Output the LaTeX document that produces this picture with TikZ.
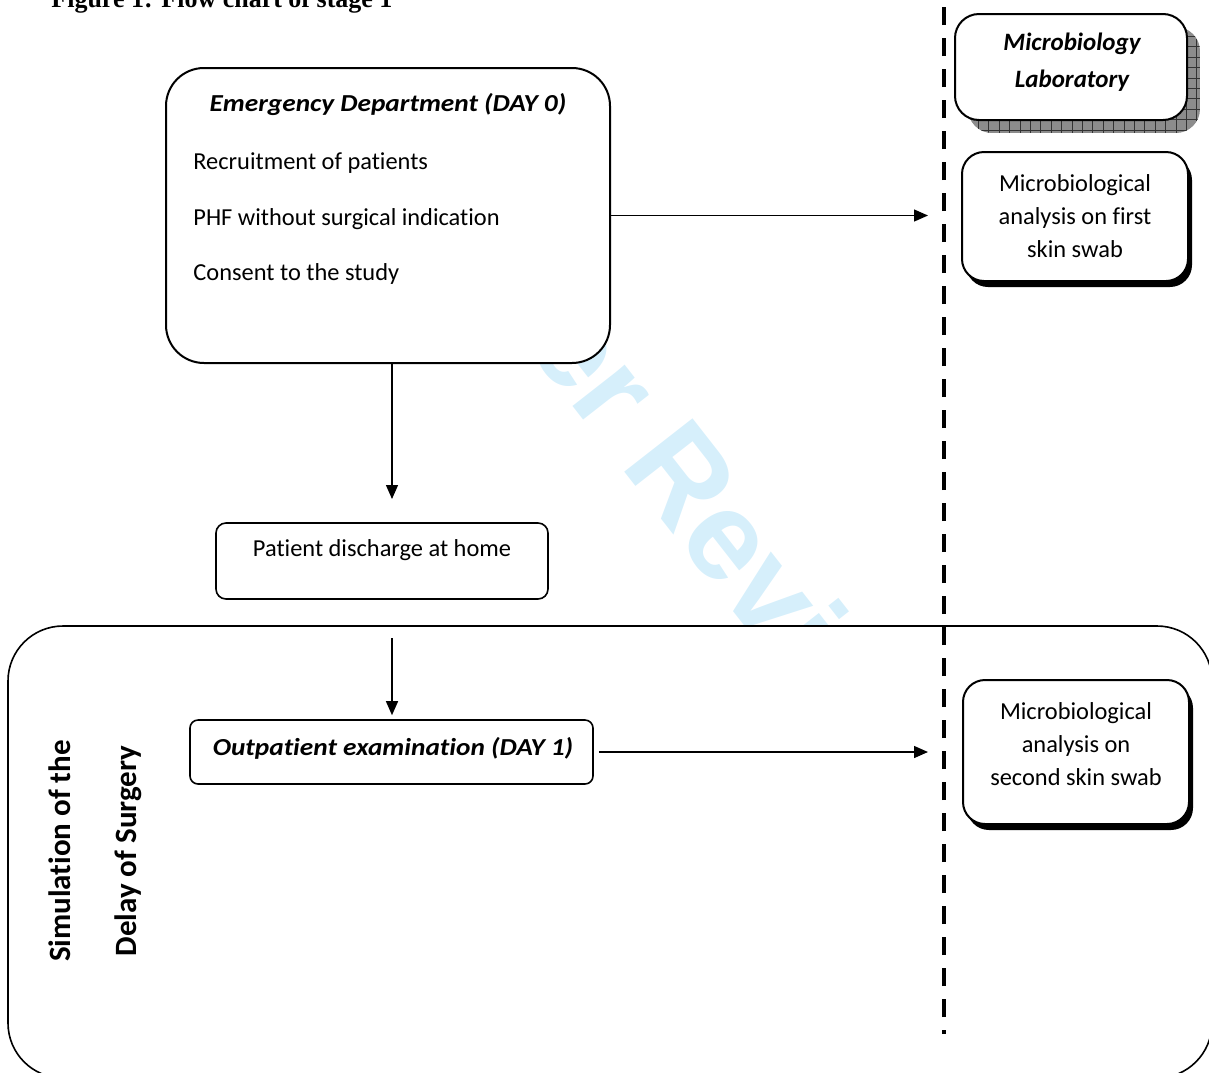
\documentclass[tikz,border=0pt]{standalone}
\usepackage{fontspec}
\setmainfont{Carlito}[Ligatures=NoCommon]
\newfontfamily\headfont{Carlito}[Ligatures=NoCommon, FakeStretch=1.12]
\newfontfamily\captionfont{Liberation Serif}
\newfontfamily\stampfont{Liberation Sans}
\usepackage{tikz}
\usetikzlibrary{arrows.meta}
\definecolor{stampblue}{RGB}{214,239,251}

\tikzset{
  every node/.style={font=\fontsize{12.2}{16.5}\selectfont, inner sep=0pt},
  rbox/.style={draw, line width=1pt, fill=white, rounded corners=#1},
  rbox/.default=11pt,
  hd/.style={font=\headfont\bfseries\itshape\fontsize{12.2}{18.5}\selectfont},
  labhd/.style={font=\bfseries\itshape\fontsize{12.5}{18.5}\selectfont},
  sidetxt/.style={rotate=90, font=\bfseries\fontsize{15.5}{15.5}\selectfont},
  dropfill/.style={fill=black, rounded corners=11pt},
  arr/.style={-{Triangle[length=7pt,width=6pt]}, line width=0.65pt},
}

\begin{document}
\begin{tikzpicture}[x=0.5pt,y=-0.5pt]
    \useasboundingbox (0,0) rectangle (1209,1072);
    \clip (0,0) rectangle (1209,1072);
    % watermark, only seen between the boxes
    \begin{scope}
        \clip (0,68) rectangle (944,626);
        \node[anchor=base west, rotate=-52, text=stampblue, font=\stampfont\bfseries\fontsize{63}{63}\selectfont] (stamp) at (283,35) {For Peer Review};
    \end{scope}
    \node[anchor=base west, font=\captionfont\bfseries\fontsize{13}{13}\selectfont] (caption) at (51,7.5) {Figure 1: Flow chart of stage 1};
    % delay zone
    \node[rbox=27.5pt, line width=0.8pt, minimum width=602pt, minimum height=226pt] (zone) at (610,852) {};
    \node[sidetxt] (simtxt) at (60,851) {Simulation of the};
    \node[sidetxt] (delaytxt) at (128,851) {Delay of Surgery};
    % emergency department
    \node[rbox=19pt, minimum width=222pt, minimum height=147.5pt] (ed) at (388,215.5) {};
    \node[hd, anchor=base] (edtitle) at (388,111.7) {Emergency Department (DAY 0)};
    \node[anchor=base west] (recruit) at (193,169.3) {Recruitment of patients};
    \node[anchor=base west] (phf) at (193,225.3) {PHF without surgical indication};
    \node[anchor=base west] (consent) at (193,280.7) {Consent to the study};
    \node[rbox=5pt, line width=0.8pt, minimum width=166pt, minimum height=38pt] (home) at (382,561) {};
    \node[anchor=base] (hometxt) at (382,556.7) {Patient discharge at home};
    \node[rbox=4pt, line width=0.8pt, minimum width=201.5pt, minimum height=32pt] (op) at (391.5,752) {};
    \node[hd, anchor=base] (optxt) at (393,755.5) {Outpatient examination (DAY 1)};
    % laboratory side
    \begin{scope}
        \clip[rounded corners=12pt] (968,27) rectangle (1200,133);
        \fill[black!45] (968,27) rectangle (1200,133);
        \foreach \gx in {978.4,988.8,...,1200} \draw[black!80, line width=0.5pt] (\gx,27) -- (\gx,133);
        \foreach \gy in {36.5,46.9,...,133} \draw[black!80, line width=0.5pt] (968,\gy) -- (1200,\gy);
    \end{scope}
    \node[rbox=12pt, minimum width=116pt, minimum height=53pt] (lab) at (1071,67) {};
    \node[labhd, align=center] (labtxt) at (1072,62.6) {Microbiology\\Laboratory};
    \fill[dropfill] (966,158) rectangle (1192,287);
    \node[rbox, minimum width=113pt, minimum height=64.5pt] (swab1) at (1075,216.5) {};
    \node[align=center] (swab1txt) at (1075,216) {Microbiological\\analysis on first\\skin swab};
    \fill[dropfill] (967,686) rectangle (1193,830);
    \node[rbox, minimum width=113pt, minimum height=72pt] (swab2) at (1076,752) {};
    \node[align=center] (swab2txt) at (1076,744.2) {Microbiological\\analysis on\\second skin swab};
    \draw[line width=2pt, dash pattern=on 9pt off 6.5pt, dash phase=7pt] (944,1034) -- (944,-5);
    % connectors
    \coordinate (labin1) at (928,215.5);
    \coordinate (homein) at (392,499);
    \coordinate (zonein) at (392,638);
    \coordinate (labin2) at (928,752);
    \draw[arr] (ed.east) -- (labin1);
    \draw[arr] (ed.south -| homein) -- (homein);
    \draw[arr, shorten >=2pt] (zonein) -- (op.north -| zonein);
    \draw[arr, shorten <=2.5pt] (op.east) -- (labin2);
\end{tikzpicture}
\end{document}
